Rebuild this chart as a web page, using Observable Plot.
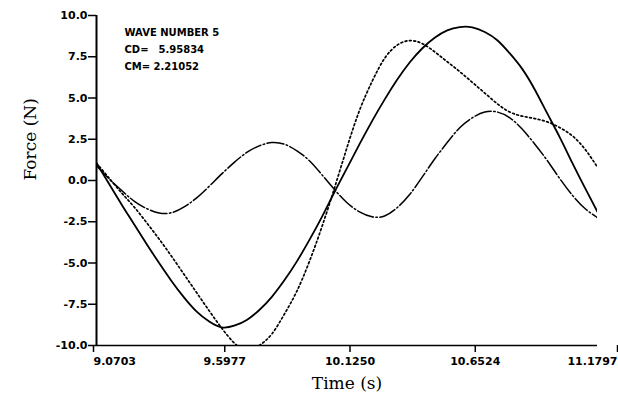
<!DOCTYPE html>
<html>
<head>
<meta charset="utf-8">
<script src="https://cdn.jsdelivr.net/npm/d3@7"></script>
<script src="https://cdn.jsdelivr.net/npm/@observablehq/plot@0.6"></script>
<style>
  html, body { margin: 0; padding: 0; background: #fff; }
</style>
</head>
<body>
<div id="chart"></div>
<script>
// Sample times (s)
const time = [
  9.0703, 9.1230, 9.1758, 9.2285, 9.2812, 9.3340, 9.3867, 9.4394, 9.4922, 9.5449,
  9.5977, 9.6504, 9.7031, 9.7559, 9.8086, 9.8613, 9.9141, 9.9668, 10.0195, 10.0723,
  10.1250, 10.1777, 10.2305, 10.2832, 10.3359, 10.3887, 10.4414, 10.4941, 10.5469, 10.5996,
  10.6524, 10.7051, 10.7578, 10.8105, 10.8633, 10.9160, 10.9687, 11.0215, 11.0742, 11.1270,
  11.1797
];

// Measured force (N), solid line
const measured = [
  1.05, -0.2, -1.45, -2.65, -3.85, -5.0, -6.1, -7.1, -7.95, -8.55,
  -8.9, -8.8, -8.45, -7.85, -7.05, -6.05, -4.9, -3.6, -2.2, -0.7,
  0.75, 2.2, 3.6, 4.9, 6.1, 7.15, 8.0, 8.65, 9.1, 9.3,
  9.28, 9.0, 8.5, 7.7, 6.75, 5.5, 4.05, 2.6, 1.05, -0.45,
  -1.9
];

// Computed force (N), dotted line
const computed = [
  1.05, 0.15, -0.75, -1.6, -2.55, -3.55, -4.6, -5.7, -6.8, -7.9,
  -8.95, -9.85, -10.3, -10.0, -9.3, -8.1, -6.7, -4.9, -2.8, -0.45,
  2.0, 4.25, 6.0, 7.4, 8.2, 8.48, 8.3, 7.8, 7.2, 6.6,
  5.95, 5.3, 4.65, 4.15, 3.9, 3.75, 3.55, 3.2, 2.7, 1.9,
  0.8
];

// Residual force (N), dash-dot line
const residual = [
  0.9, 0.1, -0.6, -1.25, -1.7, -1.97, -1.95, -1.6, -1.05, -0.35,
  0.4, 1.1, 1.7, 2.1, 2.3, 2.2, 1.8, 1.2, 0.35, -0.55,
  -1.35, -1.9, -2.2, -2.15, -1.65, -0.85, 0.2, 1.3, 2.3, 3.2,
  3.8, 4.15, 4.15, 3.8, 3.1, 2.2, 1.2, 0.1, -0.9, -1.7,
  -2.25
];

// Axis ticks and labels
const xTicks = [9.0703, 9.5977, 10.1250, 10.6524, 11.1797];
const xTickLabels = ["9.0703", "9.5977", "10.1250", "10.6524", "11.1797"];
const yTicks = [-10, -7.5, -5, -2.5, 0, 2.5, 5, 7.5, 10];

// Annotation text
const waveLabel = "WAVE NUMBER 5";
const coefNames = ["CD=", "CM="];
const coefValues = ["5.95834", "2.21052"];

const rows = time.map((t, i) => ({
  time: t,
  measured: measured[i],
  computed: computed[i],
  residual: residual[i]
}));

const tickFont = {fontFamily: "DejaVu Sans", fontWeight: "bold", fontSize: 11};
const noteFont = {fontFamily: "DejaVu Sans", fontWeight: "bold", fontSize: 10,
                  frameAnchor: "top-left", textAnchor: "start", lineAnchor: "middle"};
const xLabel = d => xTickLabels[xTicks.indexOf(d)];
const xAxisStyle = {tickFormat: xLabel, tickSize: 7, tickPadding: 5, strokeWidth: 1.5,
                    label: null, ...tickFont};

const chart = Plot.plot({
  width: 618,
  height: 398,
  marginLeft: 96,
  marginRight: 21,
  marginTop: 15,
  marginBottom: 53,
  style: {background: "white", color: "black", overflow: "visible"},
  x: {domain: [xTicks[0], xTicks[xTicks.length - 1]]},
  y: {domain: [-10, 10]},
  marks: [
    // axis lines
    Plot.ruleX([xTicks[0]], {strokeWidth: 2}),
    Plot.ruleY([-10], {strokeWidth: 1.6}),
    Plot.axisY(yTicks, {
      tickFormat: d => d.toFixed(1),
      tickSize: 8, tickPadding: 1, strokeWidth: 1.5,
      label: null, ...tickFont
    }),
    // first and last labels are shifted inward to stay clear of the edges
    Plot.axisX(xTicks.slice(0, 1), {...xAxisStyle, textAnchor: "start", dx: -3}),
    Plot.axisX(xTicks.slice(1, -1), {...xAxisStyle, dx: 3}),
    Plot.axisX(xTicks.slice(-1), {...xAxisStyle, textAnchor: "end", dx: 20}),
    // axis titles
    Plot.text(["Force (N)"], {
      frameAnchor: "left", rotate: -90, dx: -61, lineAnchor: "bottom",
      fontFamily: "DejaVu Serif", fontSize: 17
    }),
    Plot.text(["Time (s)"], {
      frameAnchor: "bottom", dy: 43, lineAnchor: "bottom",
      fontFamily: "DejaVu Serif", fontSize: 17
    }),
    // force curves
    Plot.line(rows, {
      x: "time", y: "measured", curve: "natural", clip: true,
      stroke: "black", strokeWidth: 1.8
    }),
    Plot.line(rows, {
      x: "time", y: "computed", curve: "natural", clip: true,
      stroke: "black", strokeWidth: 1.7, strokeDasharray: "1.8,2.6"
    }),
    Plot.line(rows, {
      x: "time", y: "residual", curve: "natural", clip: true,
      stroke: "black", strokeWidth: 1.5, strokeDasharray: "17,2.5,1.5,2.5"
    }),
    // run annotation
    Plot.text([waveLabel], {...noteFont, dx: 28, dy: 17}),
    Plot.text([coefNames[0]], {...noteFont, dx: 28, dy: 34}),
    Plot.text([coefValues[0]], {...noteFont, dx: 62, dy: 34}),
    Plot.text([coefNames[1]], {...noteFont, dx: 28, dy: 51}),
    Plot.text([coefValues[1]], {...noteFont, dx: 57, dy: 51})
  ]
});

document.getElementById("chart").appendChild(chart);
</script>
</body>
</html>
